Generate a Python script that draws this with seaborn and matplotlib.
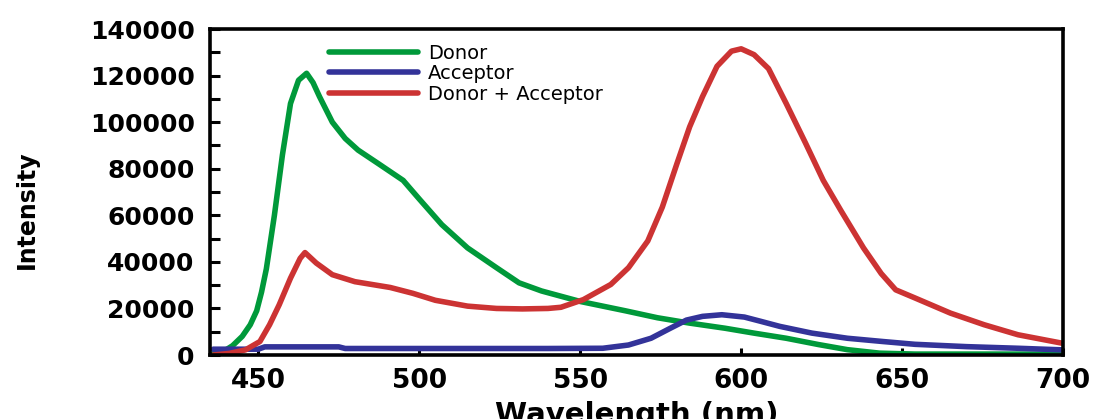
import numpy as np
import pandas as pd
import matplotlib
matplotlib.use('Agg')
import matplotlib.pyplot as plt
import seaborn as sns
from matplotlib import font_manager
from matplotlib.ticker import MultipleLocator, FuncFormatter

# -------------------------------------------------
# 데이터
# -------------------------------------------------

donor_wl = [436, 439, 442, 445, 447.5, 449.5, 451, 452.5, 455, 457.5, 460,
            462.5, 465, 467, 469, 473, 477, 481, 487.5, 495, 500, 507, 515,
            524, 531, 538, 550, 564, 574, 584, 595, 604, 614, 624, 633, 643,
            654, 670, 700]
donor_int = [700, 1400, 4000, 8000, 13000, 19000, 27000, 37000, 60000, 86000,
             108000, 118000, 121000, 117000, 111000, 100000, 93000, 88000,
             82000, 75000, 67000, 56000, 46000, 37500, 31000, 27500, 23000,
             19000, 16000, 13700, 11500, 9400, 7200, 4500, 2300, 800, 400,
             400, 400]

acceptor_wl = [436, 450, 452, 475, 477, 540, 557, 565, 572, 578, 583, 588,
               594, 601, 606, 612, 622, 633, 644, 654, 670, 686, 700]
acceptor_int = [2500, 2500, 3500, 3500, 2800, 2800, 2900, 4300, 7200, 11500,
                15000, 16600, 17300, 16300, 14500, 12300, 9400, 7200, 5800,
                4600, 3600, 2900, 2200]

da_wl = [436, 441, 446, 450.5, 453.5, 456.5, 460, 463, 464.5, 468, 473, 480,
         491, 498, 505, 515, 524, 532, 540, 544, 551, 559.5, 565, 571, 575.5,
         580, 584, 588, 592.5, 597, 600, 604, 608.5, 614, 620, 625.5, 631,
         638, 643.5, 648, 654, 665, 675.5, 686, 700]
da_int = [0, 700, 2200, 5800, 13000, 21600, 33000, 41500, 44000, 39500, 34500,
          31500, 29000, 26500, 23500, 21000, 20000, 19800, 20000, 20500, 23800,
          30300, 37500, 49000, 63500, 82000, 98000, 111000, 124000, 130500,
          131500, 129000, 123000, 108000, 91000, 75000, 62000, 46000, 35000,
          28000, 24500, 18000, 13000, 8700, 5000]

SERIES = ['Donor', 'Acceptor', 'Donor + Acceptor']
COLORS = ['#00993a', '#333399', '#cc3333']

# -------------------------------------------------
# 폰트 / 스타일
# -------------------------------------------------

installed = {f.name for f in font_manager.fontManager.ttflist}
NARROW = 'Liberation Sans Narrow' if 'Liberation Sans Narrow' in installed else 'DejaVu Sans'

sns.set_style('ticks')
plt.rcParams['font.family'] = ['DejaVu Sans']
plt.rcParams['text.color'] = 'black'
plt.rcParams['axes.labelcolor'] = 'black'
plt.rcParams['xtick.color'] = 'black'
plt.rcParams['ytick.color'] = 'black'

# -------------------------------------------------
# 데이터프레임 구성
# -------------------------------------------------

df = pd.concat([
    pd.DataFrame({'wl': donor_wl, 'intensity': donor_int, 'series': SERIES[0]}),
    pd.DataFrame({'wl': acceptor_wl, 'intensity': acceptor_int, 'series': SERIES[1]}),
    pd.DataFrame({'wl': da_wl, 'intensity': da_int, 'series': SERIES[2]}),
], ignore_index=True)

fig = plt.figure(figsize=(10.99, 4.19), dpi=100)
ax = fig.add_axes([0.1911, 0.1527, 0.7762, 0.778])

sns.lineplot(
    data=df,
    x='wl',
    y='intensity',
    hue='series',
    hue_order=SERIES,
    palette=COLORS,
    estimator=None,
    sort=True,
    linewidth=4.0,
    ax=ax
)

ax.set_xlim(435, 700)
ax.set_ylim(0, 140000)

# 축 스타일
for side in ['left', 'right', 'top', 'bottom']:
    ax.spines[side].set_visible(True)
    ax.spines[side].set_color('black')
    ax.spines[side].set_linewidth(2.6)

ax.xaxis.set_major_locator(MultipleLocator(50))
ax.yaxis.set_major_locator(MultipleLocator(20000))
ax.yaxis.set_minor_locator(MultipleLocator(10000))
ax.yaxis.set_major_formatter(FuncFormatter(lambda v, p: f'{int(v)}'))

ax.tick_params(axis='y', which='both', direction='in', length=7, width=2.2,
               pad=11, labelsize=18)
ax.tick_params(axis='x', which='major', direction='in', length=5, width=2.2,
               pad=9, labelsize=19)

for lbl in ax.get_xticklabels() + ax.get_yticklabels():
    lbl.set_fontweight('bold')

ax.set_xlabel('Wavelength (nm)', fontsize=21, fontweight='bold')
ax.xaxis.set_label_coords(0.5, -0.14)

ax.set_ylabel('Intensity', fontsize=17, fontweight='bold',
              family=NARROW, va='center')
ax.yaxis.set_label_coords(-0.215, 0.445)

# 범례
handles, labels = ax.get_legend_handles_labels()
ax.legend(
    handles, labels,
    loc='upper left',
    bbox_to_anchor=(0.139, 0.955),
    frameon=False,
    fontsize=14,
    handlelength=4.6,
    handletextpad=0.5,
    labelspacing=0.08,
    borderpad=0,
    borderaxespad=0
)

fig.savefig('out.png', dpi=100)
